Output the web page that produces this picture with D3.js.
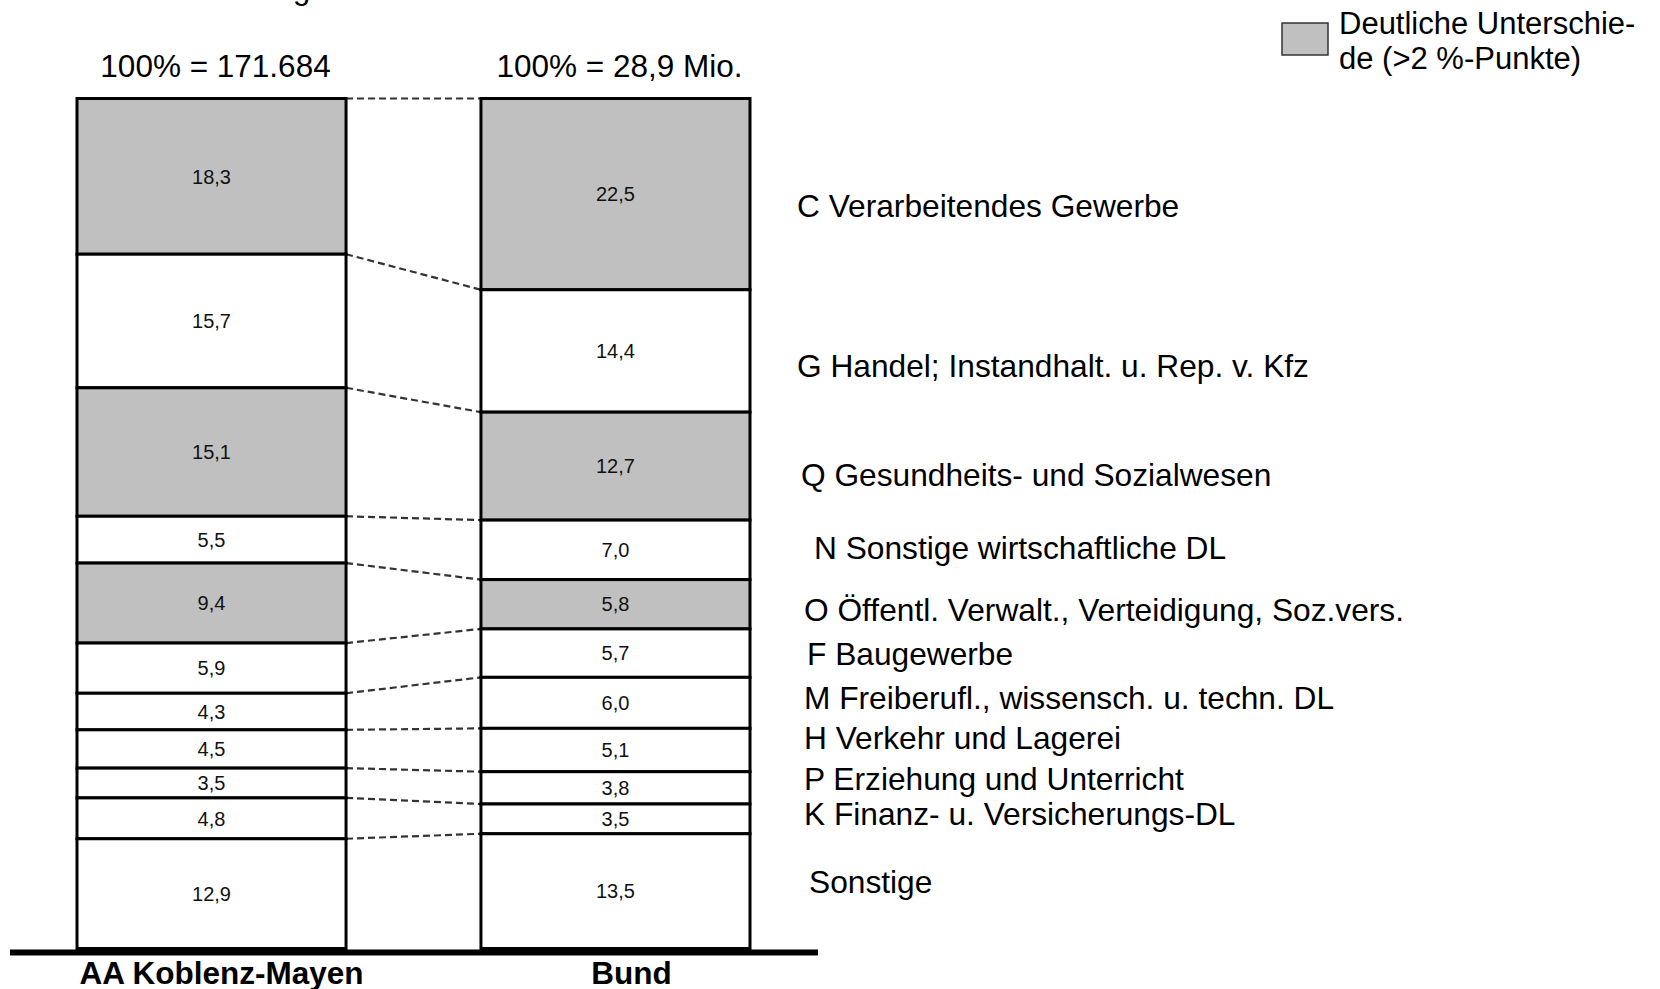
<html>
<head>
<meta charset="utf-8">
<script src="https://d3js.org/d3.v7.min.js"></script>
<style>
body { margin: 0; background: #fff; font-family: "Liberation Sans", Arial, sans-serif; }
</style>
</head>
<body>
<div id="chart"></div>
<script>

// data
var categories = [
	"C Verarbeitendes Gewerbe",
	"G Handel; Instandhalt. u. Rep. v. Kfz",
	"Q Gesundheits- und Sozialwesen",
	"N Sonstige wirtschaftliche DL",
	"O Öffentl. Verwalt., Verteidigung, Soz.vers.",
	"F Baugewerbe",
	"M Freiberufl., wissensch. u. techn. DL",
	"H Verkehr und Lagerei",
	"P Erziehung und Unterricht",
	"K Finanz- u. Versicherungs-DL",
	"Sonstige"
];
var regionValues = [18.3, 15.7, 15.1, 5.5, 9.4, 5.9, 4.3, 4.5, 3.5, 4.8, 12.9];
var bundValues = [22.5, 14.4, 12.7, 7.0, 5.8, 5.7, 6.0, 5.1, 3.8, 3.5, 13.5];
var barNames = ["AA Koblenz-Mayen", "Bund"];
var totalLabels = ["100% = 171.684", "100% = 28,9 Mio."];
var legendLines = ["Deutliche Unterschie-", "de (>2 %-Punkte)"];
var threshold = 2;

// layout
var width = 1660, height = 989;
var yTop = 98.5, yBottom = 948.5;
// hand placement of the category labels next to the Bund bar
var labelDy = [11, 15, 8, -2, 5, 0, -5, -12, -9, -5, -10];
var labelDx = [0, 0, 4, 17, 7, 10, 7, 7, 7, 7, 12];

var svg = d3.select("#chart").append("svg")
	.attr("width", width).attr("height", height);

var de = d3.formatLocale({ decimal: ",", thousands: ".", grouping: [3], currency: ["", " €"] });
var fmt = de.format(".1f");

var xScale = d3.scaleBand().domain(barNames).range([77, 750]).paddingInner(0.334);
var bw = xScale.bandwidth();

var series = [regionValues, bundValues];
var stacks = series.map(function (vals) {
	var y = d3.scaleLinear().domain([0, d3.sum(vals)]).range([yTop, yBottom]);
	var ends = Array.from(d3.cumsum(vals));
	return vals.map(function (v, i) {
		return { value: v, y0: y(ends[i] - v), y1: y(ends[i]), index: i };
	});
});

// big differences are shaded
function isMarked(i) { return Math.abs(regionValues[i] - bundValues[i]) > threshold; }

// connector lines between the matching boundaries
var xL = xScale(barNames[0]) + bw, xR = xScale(barNames[1]);
svg.selectAll(".connector").data(categories)
	.enter().append("line")
	.attr("class", "connector")
	.attr("x1", xL)
	.attr("x2", xR)
	.attr("y1", function (d, i) { return stacks[0][i].y0; })
	.attr("y2", function (d, i) { return stacks[1][i].y0; })
	.style("stroke", "#333")
	.style("stroke-width", 2.2)
	.style("stroke-dasharray", "7,4");

barNames.forEach(function (name, b) {
	var g = svg.append("g");
	var x0 = xScale(name);

	g.selectAll("rect").data(stacks[b])
		.enter().append("rect")
		.attr("x", x0)
		.attr("width", bw)
		.attr("y", function (d) { return d.y0; })
		.attr("height", function (d) { return d.y1 - d.y0; })
		.style("fill", function (d) { return isMarked(d.index) ? "#c0c0c0" : "#fff"; })
		.style("stroke", "#000")
		.style("stroke-width", 3);

	g.selectAll("text").data(stacks[b])
		.enter().append("text")
		.attr("x", x0 + bw / 2)
		.attr("y", function (d) { return (d.y0 + d.y1) / 2; })
		.attr("dy", "0.36em")
		.attr("text-anchor", "middle")
		.style("font-size", "20px")
		.style("fill", "#111")
		.text(function (d) { return fmt(d.value); });

	svg.append("text")
		.attr("x", x0 + bw / 2 + 4)
		.attr("y", 77)
		.attr("text-anchor", "middle")
		.style("font-size", "31.5px")
		.text(totalLabels[b]);
});

// base line
svg.append("line")
	.attr("x1", 10).attr("x2", 818)
	.attr("y1", 952.5).attr("y2", 952.5)
	.style("stroke", "#000")
	.style("stroke-width", 6);

svg.selectAll(".barname").data(barNames)
	.enter().append("text")
	.attr("class", "barname")
	.attr("x", function (d, i) { return xScale(d) + bw / 2 + (i == 0 ? 10 : 16); })
	.attr("y", 984)
	.attr("text-anchor", "middle")
	.style("font-size", "31.5px")
	.style("font-weight", "bold")
	.text(function (d) { return d; });

// category labels
svg.selectAll(".cat").data(categories)
	.enter().append("text")
	.attr("class", "cat")
	.attr("x", function (d, i) { return xR + bw + 47 + labelDx[i]; })
	.attr("y", function (d, i) { return (stacks[1][i].y0 + stacks[1][i].y1) / 2 + labelDy[i]; })
	.attr("dy", "0.36em")
	.style("font-size", "31.7px")
	.text(function (d) { return d; });

// legend
svg.append("rect")
	.attr("x", 1282).attr("y", 23)
	.attr("width", 46).attr("height", 32)
	.style("fill", "#c0c0c0")
	.style("stroke", "#333")
	.style("stroke-width", 1.5);

svg.selectAll(".legend").data(legendLines)
	.enter().append("text")
	.attr("class", "legend")
	.attr("x", 1339)
	.attr("y", function (d, i) { return 34 + i * 35; })
	.style("font-size", "31px")
	.text(function (d) { return d; });

// cut-off title remnant at the top edge
svg.append("text")
	.attr("x", 293).attr("y", -1)
	.style("font-size", "31px")
	.text("g");

</script>
</body>
</html>
